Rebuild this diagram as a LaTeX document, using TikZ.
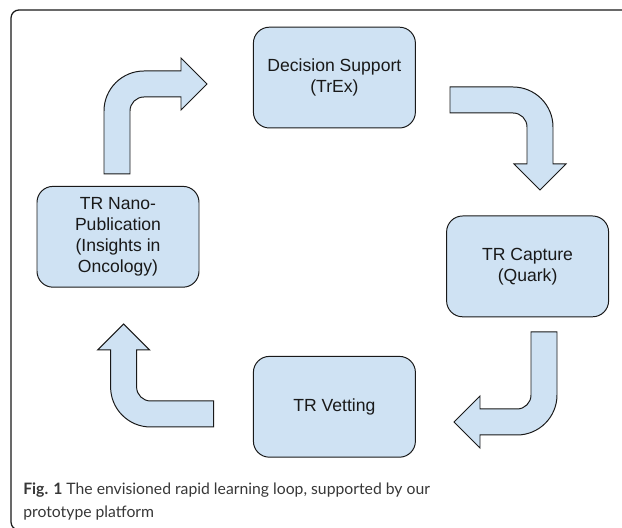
\documentclass[tikz,border=0pt]{standalone}
\usepackage{fontspec}
\setmainfont{Liberation Sans}
\newfontfamily\capfont{Lato}
\usetikzlibrary{positioning}
\definecolor{StepBlue}{RGB}{207,226,243}
\definecolor{Ink}{RGB}{25,25,25}
\definecolor{CapGray}{RGB}{55,55,55}
\tikzset{
  stage/.style={draw=Ink,line width=.7pt,rounded corners=.4cm,fill=StepBlue,align=center,text=Ink,font=\fontsize{12.5}{14.8}\selectfont,minimum width=4.05cm,minimum height=2.52cm,inner sep=2pt},
  blockarrow/.style={draw=Ink,line width=.7pt,fill=StepBlue,line join=miter},
  frame/.style={draw=Ink,line width=.9pt,rounded corners=.2cm},
  caption/.style={font=\capfont\fontsize{11.2}{17}\selectfont,text=CapGray,align=left,anchor=base west,inner sep=0pt},
  bentarrow/.pic={
    \path[blockarrow] (-.325,-2.25) -- (-.325,-.675) arc[start angle=180,end angle=90,radius=1] -- (1.6,.325) -- (1.6,.65) -- (2.25,0) -- (1.6,-.65) -- (1.6,-.325) -- (.675,-.325) arc[start angle=90,end angle=180,radius=.35] -- (.325,-2.25) -- cycle;
  }
}
\begin{document}
\begin{tikzpicture}[x=1cm,y=1cm]
  \useasboundingbox (0,0) rectangle (15.55,13.2);
  \draw[frame] (15.7,12.95) -- (.275,12.95) -- (.275,-.05) -- (1,-.05);
  \node[stage] (dec) at (8.36,11.26) {Decision Support\\(TrEx)};
  \node[stage] (cap) at (13.19,6.54) {TR Capture\\(Quark)};
  \node[stage] (vet) at (8.36,3.03) {TR Vetting};
  \node[stage] (pub) at (2.95,7.28) {TR Nano-\\Publication\\(Insights in\\Oncology)};
  \foreach \x/\y/\r in {2.925/11.1/0,13.5/10.7/-90,13.6/2.65/-180,3.09/2.85/90}{
    \pic[rotate=\r] at (\x,\y) {bentarrow};
  }
  % base anchor sits on the last line
  \node[caption] (fig) at (.575,.25) {\textbf{Fig. 1} The envisioned rapid learning loop, supported by our\\prototype platform};
\end{tikzpicture}
\end{document}
